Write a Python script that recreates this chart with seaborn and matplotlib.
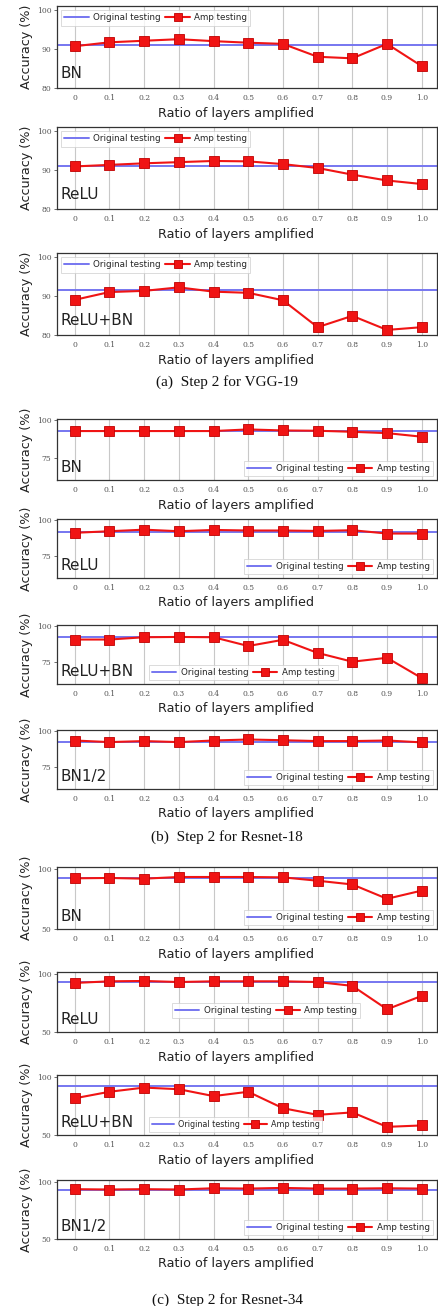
import matplotlib
matplotlib.use('Agg')
import pandas as pd
import matplotlib.pyplot as plt
import seaborn as sns

ratios = [0, 0.1, 0.2, 0.3, 0.4, 0.5, 0.6, 0.7, 0.8, 0.9, 1.0]
tick_labels = ['0', '0.1', '0.2', '0.3', '0.4', '0.5', '0.6', '0.7', '0.8', '0.9', '1.0']

# VGG-19
vgg_bn = [90.7, 91.7, 92.1, 92.5, 92.0, 91.6, 91.3, 88.0, 87.6, 91.3, 85.6]
vgg_relu = [90.9, 91.3, 91.7, 92.0, 92.3, 92.2, 91.5, 90.5, 88.8, 87.3, 86.4]
vgg_relu_bn = [89.0, 91.0, 91.3, 92.2, 91.1, 90.8, 88.9, 82.0, 84.9, 81.3, 82.0]
vgg_orig = [91.0, 91.0, 91.4]

# Resnet-18
r18_bn = [92.9, 92.9, 92.9, 92.9, 92.9, 94.0, 93.3, 93.1, 92.4, 91.5, 89.1]
r18_relu = [91.4, 92.5, 93.6, 92.5, 93.4, 93.0, 93.0, 92.7, 93.2, 90.9, 90.9]
r18_relu_bn = [90.9, 90.9, 92.5, 92.7, 92.5, 86.4, 90.7, 81.6, 75.5, 78.2, 64.1]
r18_bn_half = [93.7, 92.6, 93.3, 92.6, 93.7, 94.4, 93.9, 93.3, 93.3, 93.7, 92.4]
r18_orig = [92.9, 92.3, 92.5, 92.8]

# Resnet-34
r34_bn = [92.1, 92.4, 91.8, 93.2, 93.2, 93.2, 92.9, 90.1, 87.0, 75.1, 81.9]
r34_relu = [92.1, 93.5, 93.8, 92.9, 93.5, 93.5, 93.5, 92.9, 89.6, 69.5, 81.0]
r34_relu_bn = [81.5, 87.1, 90.7, 89.3, 83.4, 87.1, 73.0, 67.3, 69.4, 57.0, 58.2]
r34_bn_half = [93.5, 93.2, 93.5, 93.2, 94.3, 94.0, 94.6, 94.0, 94.0, 94.3, 94.0]
r34_orig = [92.4, 92.9, 92.1, 93.2]

W, H = 438, 1306

# name, values, original, ylim, yticks, (top px, bottom px), legend placement, legend font
panels = [
    ('BN', vgg_bn, vgg_orig[0], (80, 101), [80, 90, 100], (6, 88), ('upper left', None), 6.3),
    ('ReLU', vgg_relu, vgg_orig[1], (80, 101), [80, 90, 100], (127, 209), ('upper left', None), 6.3),
    ('ReLU+BN', vgg_relu_bn, vgg_orig[2], (80, 101), [80, 90, 100], (253, 335), ('upper left', None), 6.3),
    ('BN', r18_bn, r18_orig[0], (60, 101), [75, 100], (419, 480), ('lower right', None), 6.3),
    ('ReLU', r18_relu, r18_orig[1], (60, 101), [75, 100], (519, 578), ('lower right', None), 6.3),
    ('ReLU+BN', r18_relu_bn, r18_orig[2], (60, 101), [75, 100], (625, 684), ('center', (0.49, 0.20)), 6.3),
    ('BN1/2', r18_bn_half, r18_orig[3], (60, 101), [75, 100], (730, 789), ('lower right', None), 6.3),
    ('BN', r34_bn, r34_orig[0], (50, 101.5), [50, 100], (867, 929), ('lower right', None), 6.3),
    ('ReLU', r34_relu, r34_orig[1], (50, 101.5), [50, 100], (972, 1032), ('center', (0.55, 0.36)), 6.3),
    ('ReLU+BN', r34_relu_bn, r34_orig[2], (50, 101.5), [50, 100], (1075, 1135), ('center', (0.47, 0.17)), 5.8),
    ('BN1/2', r34_bn_half, r34_orig[3], (50, 101.5), [50, 100], (1180, 1239), ('lower right', None), 6.3),
]

captions = [('(a)  Step 2 for VGG-19', 382), ('(b)  Step 2 for Resnet-18', 837), ('(c)  Step 2 for Resnet-34', 1300)]

sns.set_theme(style='whitegrid')
plt.rcParams['font.family'] = ['DejaVu Sans']

fig = plt.figure(figsize=(W / 100, H / 100), dpi=100)
left, right = 57, 437

for name, vals, orig, ylim, yticks, (top, bottom), (loc, anchor), leg_fs in panels:
    ax = fig.add_axes([left / W, 1 - bottom / H, (right - left) / W, (bottom - top) / H])
    df = pd.DataFrame({'ratio': ratios, 'acc': vals})
    ax.axhline(orig, color='#7676f0', lw=1.4, label='Original testing', zorder=2)
    sns.lineplot(data=df, x='ratio', y='acc', ax=ax, color='#f01414', lw=1.5,
                 marker='s', markersize=7, markeredgecolor='#c00000', markeredgewidth=0.6,
                 label='Amp testing', zorder=3)
    ax.set_xlim(-0.051, 1.044)
    ax.set_ylim(*ylim)
    ax.set_xticks(ratios)
    ax.set_xticklabels(tick_labels)
    ax.set_yticks(yticks)
    ax.grid(axis='y', visible=False)
    ax.grid(axis='x', color='#c8c8c8', lw=0.8)
    for s in ax.spines.values():
        s.set_color('#333333')
        s.set_linewidth(0.9)
    ax.tick_params(axis='both', labelsize=5.5, colors='#555555', pad=2, length=2, width=0.6,
                   left=True, bottom=False)
    for t in ax.get_xticklabels() + ax.get_yticklabels():
        t.set_family('DejaVu Serif')
    ax.set_xlabel('Ratio of layers amplified', fontsize=9.2, color='#222222', labelpad=1)
    ax.set_ylabel('Accuracy (%)', fontsize=9.2, color='#222222', labelpad=3)
    ax.xaxis.set_label_coords(0.47, -0.23 if bottom - top > 70 else -0.31)
    ax.text(0.008, 0.08, name, transform=ax.transAxes, fontsize=11, color='#222222',
            va='bottom', ha='left', zorder=5)
    leg = ax.legend(loc=loc, bbox_to_anchor=anchor, ncol=2, fontsize=leg_fs, frameon=True,
                    handlelength=2.8, columnspacing=0.5, handletextpad=0.5,
                    borderpad=0.35, markerscale=0.9, fancybox=False)
    leg.get_frame().set_edgecolor('#cccccc')
    leg.get_frame().set_linewidth(0.6)

for text, y in captions:
    fig.text(227 / W, 1 - y / H, text, ha='center', va='center', fontsize=11,
             family='Liberation Serif', color='#111111')

fig.savefig('out.png', dpi=100)
